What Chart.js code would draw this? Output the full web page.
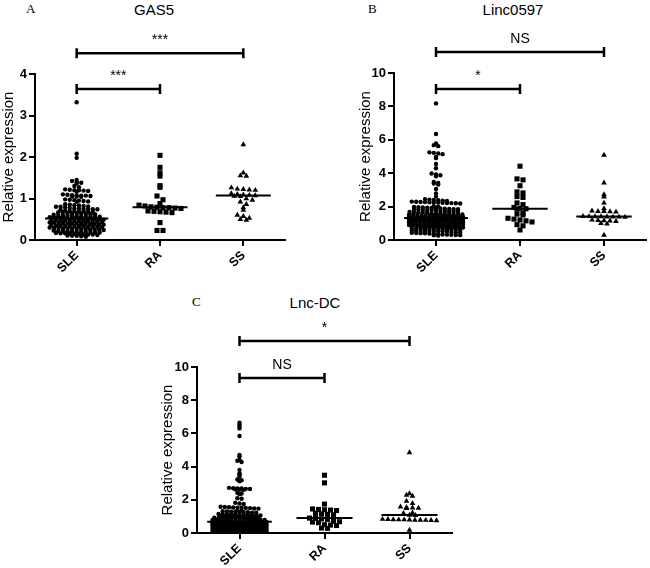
<!DOCTYPE html>
<html>
<head>
<title>GAS5 / Linc0597 / Lnc-DC</title>
<script src="https://cdn.jsdelivr.net/npm/chart.js"></script>
<style>
  body { margin: 0; background: #fff; width: 650px; height: 568px; position: relative; overflow: hidden;
         font-family: "Liberation Sans", Arial, sans-serif; }
  canvas { position: absolute; }
  .letter { position: absolute; font-family: "Liberation Serif", "Times New Roman", serif; font-size: 13px; color: #000; }
  .title { position: absolute; font-size: 15px; color: #000; transform: translateX(-50%); white-space: nowrap; }
</style>
</head>
<body>
<div class="letter" style="left:26px;top:1px">A</div>
<div class="title" style="left:154px;top:1px">GAS5</div>
<div class="letter" style="left:368px;top:1px">B</div>
<div class="title" style="left:513px;top:1px">Linc0597</div>
<div class="letter" style="left:192px;top:294px">C</div>
<div class="title" style="left:315px;top:294px">Lnc-DC</div>

<canvas id="chartA" width="325" height="290" style="left:0;top:0"></canvas>
<canvas id="chartB" width="325" height="290" style="left:325px;top:0"></canvas>
<canvas id="chartC" width="325" height="278" style="left:150px;top:290px"></canvas>

<script>
const categories = ["SLE", "RA", "SS"];

// GAS5
const gas5SLE = [
  3.32, 2.08, 1.98,
  1.45, 1.42, 1.40, 1.38, 1.36, 1.30, 1.27,
  1.22, 1.21, 1.20, 1.20, 1.19, 1.18, 1.17,
  1.10, 1.09, 1.08, 1.08, 1.07, 1.07, 1.06, 1.05, 1.05, 1.04,
  0.98, 0.97, 0.96, 0.95, 0.94, 0.93, 0.92,
  0.86, 0.85, 0.84, 0.83, 0.82, 0.81, 0.80, 0.80, 0.79,
  0.77, 0.76, 0.76, 0.75, 0.75, 0.74, 0.74, 0.73,
  0.71, 0.70, 0.70, 0.69, 0.69, 0.68, 0.68, 0.67, 0.67,
  0.65, 0.64, 0.64, 0.63, 0.63, 0.62, 0.62, 0.61, 0.61, 0.60,
  0.59, 0.58, 0.58, 0.57, 0.57, 0.57, 0.56, 0.56, 0.55, 0.55, 0.54,
  0.53, 0.53, 0.52, 0.52, 0.52, 0.52, 0.51, 0.51, 0.51, 0.50, 0.50, 0.50,
  0.49, 0.48, 0.48, 0.47, 0.47, 0.46, 0.46, 0.46, 0.45, 0.45, 0.44, 0.44, 0.43,
  0.42, 0.42, 0.41, 0.41, 0.40, 0.40, 0.40, 0.39, 0.39, 0.38, 0.38, 0.37, 0.37,
  0.36, 0.35, 0.35, 0.34, 0.34, 0.34, 0.33, 0.33, 0.32, 0.32, 0.31, 0.31, 0.30,
  0.29, 0.29, 0.28, 0.28, 0.27, 0.27, 0.26, 0.26, 0.25, 0.25, 0.24, 0.24,
  0.23, 0.22, 0.22, 0.21, 0.21, 0.20, 0.20, 0.19, 0.19, 0.18, 0.18,
  0.17, 0.16, 0.16, 0.15, 0.15, 0.14, 0.14, 0.13, 0.13,
  0.12, 0.11, 0.10, 0.10, 0.09, 0.08
];
const gas5RA = [2.04, 1.75, 1.62, 1.54, 1.31, 1.27, 1.06, 0.97, 0.88, 0.84, 0.82, 0.80, 0.79,
  0.78, 0.78, 0.77, 0.76, 0.70, 0.69, 0.68, 0.67, 0.66, 0.42, 0.23, 0.23];
const gas5SS = [2.30, 1.62, 1.55, 1.54, 1.26, 1.23, 1.22, 1.21, 1.20, 1.12, 1.10, 1.09, 1.08, 1.07,
  1.06, 1.05, 1.00, 0.96, 0.92, 0.86, 0.78, 0.72, 0.60, 0.57, 0.53, 0.50, 0.48];
const gas5Ticks = [0, 1, 2, 3, 4];

// Linc0597
const lincSLE = [
  8.18, 6.35, 5.78, 5.68, 5.62, 5.25, 5.22, 5.18, 5.14, 4.98, 4.90, 4.55, 4.30,
  3.98, 3.92, 3.88, 3.82, 3.48, 3.42, 3.38, 3.32, 3.05, 2.78, 2.60,
  2.45, 2.42, 2.40, 2.38, 2.36, 2.34,
  2.30, 2.29, 2.28, 2.27, 2.26, 2.25, 2.24, 2.23, 2.22, 2.21, 2.20, 2.19,
  2.02, 2.00, 1.98, 1.97, 1.95, 1.94, 1.92, 1.91, 1.89,
  1.87, 1.86, 1.85, 1.84, 1.83, 1.82, 1.81, 1.80, 1.79, 1.78,
  1.73, 1.72, 1.71, 1.70, 1.69, 1.68, 1.67, 1.66, 1.65, 1.64,
  1.60, 1.59, 1.58, 1.57, 1.56, 1.55, 1.54, 1.53, 1.52, 1.51, 1.50,
  1.47, 1.46, 1.45, 1.44, 1.43, 1.42, 1.42, 1.41, 1.40, 1.39, 1.38, 1.37,
  1.34, 1.33, 1.32, 1.32, 1.31, 1.30, 1.30, 1.29, 1.29, 1.28, 1.28, 1.27, 1.26, 1.25,
  1.22, 1.21, 1.20, 1.20, 1.19, 1.18, 1.18, 1.17, 1.16, 1.16, 1.15, 1.14, 1.13,
  1.10, 1.09, 1.08, 1.07, 1.06, 1.06, 1.05, 1.04, 1.04, 1.03, 1.02, 1.01, 1.00,
  0.97, 0.96, 0.95, 0.94, 0.93, 0.92, 0.92, 0.91, 0.90, 0.89, 0.88, 0.87,
  0.85, 0.84, 0.83, 0.82, 0.81, 0.80, 0.80, 0.79, 0.78, 0.77, 0.76, 0.75,
  0.72, 0.71, 0.70, 0.69, 0.68, 0.68, 0.67, 0.66, 0.65, 0.64, 0.63,
  0.60, 0.58, 0.57, 0.56, 0.55, 0.55, 0.54, 0.53, 0.52, 0.51,
  0.48, 0.46, 0.45, 0.43, 0.42, 0.41, 0.40, 0.39, 0.37,
  0.35, 0.33, 0.32, 0.31, 0.30, 0.29, 0.28, 0.26
];
const lincRA = [4.42, 3.66, 3.60, 3.25, 2.88, 2.82, 2.60, 2.55, 2.22, 2.12, 1.95, 1.90, 1.87,
  1.84, 1.62, 1.55, 1.50, 1.30, 1.25, 1.20, 1.15, 1.08, 0.92, 0.85, 0.60];
const lincSS = [5.08, 3.42, 2.72, 2.58, 2.22, 1.88, 1.75, 1.72, 1.72, 1.70, 1.68, 1.42, 1.41, 1.40,
  1.40, 1.39, 1.38, 1.38, 1.37, 1.20, 1.18, 1.16, 1.15, 1.12, 1.00, 0.96, 0.30];
const lincTicks = [0, 2, 4, 6, 8, 10];

// Lnc-DC
const lncdcSLE = [
  6.64, 6.52, 6.40, 6.30, 5.84, 4.70, 4.62, 4.40, 4.35, 4.28, 3.80, 3.58, 3.52, 3.40,
  3.22, 3.18, 3.12, 2.72, 2.70, 2.69, 2.68, 2.66, 2.65, 2.64, 2.62, 2.60,
  2.42, 2.38, 2.34, 2.10, 2.06, 1.82, 1.78, 1.75,
  1.58, 1.57, 1.55, 1.54, 1.53, 1.52, 1.51, 1.50, 1.48, 1.47,
  1.34, 1.33, 1.31, 1.30, 1.29, 1.28, 1.27, 1.26, 1.25, 1.23, 1.22,
  1.15, 1.14, 1.13, 1.12, 1.11, 1.10, 1.10, 1.09, 1.08, 1.07, 1.06, 1.05,
  1.00, 0.99, 0.98, 0.97, 0.96, 0.95, 0.95, 0.94, 0.93, 0.92, 0.91, 0.90,
  0.87, 0.86, 0.85, 0.84, 0.83, 0.82, 0.82, 0.81, 0.80, 0.79, 0.78, 0.77, 0.76,
  0.73, 0.72, 0.71, 0.71, 0.70, 0.69, 0.69, 0.68, 0.68, 0.67, 0.67, 0.66, 0.65, 0.65, 0.64, 0.63,
  0.60, 0.59, 0.58, 0.58, 0.57, 0.56, 0.56, 0.55, 0.55, 0.54, 0.54, 0.53, 0.52, 0.52, 0.51, 0.50,
  0.49, 0.48, 0.48, 0.47, 0.47, 0.46, 0.46, 0.45, 0.45, 0.44, 0.44, 0.43, 0.43, 0.42, 0.42, 0.41,
  0.39, 0.38, 0.38, 0.37, 0.37, 0.36, 0.36, 0.35, 0.35, 0.34, 0.34, 0.33, 0.33, 0.32, 0.32, 0.31,
  0.29, 0.28, 0.28, 0.27, 0.27, 0.26, 0.26, 0.25, 0.25, 0.24, 0.24, 0.23, 0.23, 0.22, 0.22, 0.21,
  0.19, 0.18, 0.18, 0.17, 0.17, 0.16, 0.16, 0.15, 0.15, 0.14, 0.14, 0.13, 0.13, 0.12, 0.11,
  0.10, 0.09, 0.09, 0.08, 0.08, 0.07, 0.07, 0.06, 0.05, 0.05, 0.04, 0.03
];
const lncdcRA = [3.48, 3.02, 1.74, 1.45, 1.42, 1.40, 1.38, 1.35, 1.18, 1.15, 1.12, 1.10, 0.90,
  0.88, 0.85, 0.82, 0.70, 0.68, 0.66, 0.62, 0.50, 0.48, 0.45, 0.30, 0.28];
const lncdcSS = [4.84, 2.38, 2.28, 2.22, 1.92, 1.78, 1.58, 1.55, 1.52, 1.50, 1.48, 1.22, 1.18, 1.08,
  1.06, 0.83, 0.82, 0.81, 0.80, 0.80, 0.79, 0.78, 0.78, 0.77, 0.76, 0.75, 0.18];
const lncdcTicks = [0, 2, 4, 6, 8, 10];

const FONT = "'Liberation Sans', Arial, sans-serif";
const markers = ["circle", "rect", "triangle"];
const markerSize = [2.2, 3.6, 3.3];
const halfWidth = [0.38, 0.33, 0.33];

function median(arr) {
  const s = arr.slice().sort((a, b) => a - b);
  const m = Math.floor(s.length / 2);
  return s.length % 2 ? s[m] : (s[m - 1] + s[m]) / 2;
}

const bracketPlugin = {
  id: "brackets",
  afterDraw(chart, args, opts) {
    const { ctx } = chart;
    const x = chart.scales.x, y = chart.scales.y;
    ctx.save();
    ctx.strokeStyle = "#000";
    ctx.fillStyle = "#000";
    ctx.lineWidth = 2.5;
    ctx.font = "14px " + FONT;
    ctx.textAlign = "center";
    ctx.textBaseline = "alphabetic";
    opts.items.forEach(b => {
      const x1 = x.getPixelForValue(b.from), x2 = x.getPixelForValue(b.to);
      const py = y.getPixelForValue(b.y);
      ctx.beginPath();
      ctx.moveTo(x1, py); ctx.lineTo(x2, py);
      ctx.moveTo(x1, py - 5); ctx.lineTo(x1, py + 5);
      ctx.moveTo(x2, py - 5); ctx.lineTo(x2, py + 5);
      ctx.stroke();
      ctx.fillText(b.text, (x1 + x2) / 2, py - 9);
    });
    ctx.restore();
  }
};

// dot-plot layout: group points into pixel rows, centre each row on the category
function spreadRows(chart) {
  const xs = chart.scales.x, ys = chart.scales.y;
  const unit = xs.getPixelForValue(1) - xs.getPixelForValue(0);
  chart.data.datasets.forEach(ds => {
    if (ds.row === undefined) return;
    const rows = {};
    ds.data.forEach(p => {
      const key = Math.round(ys.getPixelForValue(p.y) / ds.row);
      (rows[key] = rows[key] || []).push(p);
    });
    Object.values(rows).forEach(pts => {
      const n = pts.length;
      const sp = n > 1 ? Math.min(ds.gap, ds.maxW / (n - 1)) : 0;
      pts.forEach((p, j) => {
        p.x = ds.groupIndex + (j - (n - 1) / 2) * sp / unit;
      });
    });
  });
  chart.update("none");
}

function makePanel(id, groups, ticks, yMax, sleRow, sleGap, brackets, pad, yWidth, xHeight) {
  const datasets = [];
  groups.forEach((vals, i) => {
    datasets.push({
      data: vals.map(v => ({ x: i, y: v })),
      groupIndex: i,
      row: i === 0 ? sleRow : 4.5,
      gap: i === 0 ? sleGap : 6,
      maxW: 54,
      pointStyle: markers[i],
      pointRadius: markerSize[i],
      pointBackgroundColor: "#000",
      pointBorderWidth: 0,
      order: 2
    });
    const m = median(vals);
    datasets.push({
      data: [{ x: i - halfWidth[i], y: m }, { x: i + halfWidth[i], y: m }],
      showLine: true,
      borderColor: "#000",
      borderWidth: 2,
      pointRadius: 0,
      order: 1
    });
  });
  const chart = new Chart(document.getElementById(id), {
    type: "scatter",
    data: { datasets },
    options: {
      responsive: false,
      animation: false,
      layout: { padding: pad },
      plugins: { legend: { display: false }, tooltip: { enabled: false }, brackets: { items: brackets } },
      scales: {
        x: {
          type: "linear", min: -0.5, max: 2.5,
          afterBuildTicks: s => { s.ticks = categories.map((c, i) => ({ value: i })); },
          afterFit: s => { s.height = xHeight; },
          ticks: {
            callback: v => categories[v],
            minRotation: 45, maxRotation: 45, padding: 2, color: "#000",
            font: { family: FONT, size: 12.5, weight: "bold" }
          },
          grid: { display: true, drawOnChartArea: false, drawTicks: true, tickLength: 6, color: "#000", lineWidth: 2 },
          border: { display: true, color: "#000", width: 2 }
        },
        y: {
          min: 0, max: yMax,
          afterBuildTicks: s => { s.ticks = ticks.map(v => ({ value: v })); },
          afterFit: s => { s.width = yWidth; },
          ticks: { padding: 2, color: "#000", font: { family: FONT, size: 13, weight: "bold" } },
          grid: { display: true, drawOnChartArea: false, drawTicks: true, tickLength: 6, color: "#000", lineWidth: 2 },
          border: { display: true, color: "#000", width: 2 },
          title: { display: true, text: "Relative expression", color: "#000", padding: 0, font: { family: FONT, size: 15 } }
        }
      }
    },
    plugins: [bracketPlugin]
  });
  spreadRows(chart);
  return chart;
}

makePanel("chartA", [gas5SLE, gas5RA, gas5SS], gas5Ticks, 4, 2.6, 4.6,
  [{ from: 0, to: 2, y: 4.5, text: "***" }, { from: 0, to: 1, y: 3.64, text: "***" }],
  { left: 0, top: 74, right: 40, bottom: 0 }, 35, 50);

makePanel("chartB", [lincSLE, lincRA, lincSS], lincTicks, 10, 2.6, 4.4,
  [{ from: 0, to: 2, y: 11.26, text: "NS" }, { from: 0, to: 1, y: 9.04, text: "*" }],
  { left: 32, top: 73, right: 2, bottom: 0 }, 37, 50);

makePanel("chartC", [lncdcSLE, lncdcRA, lncdcSS], lncdcTicks, 10, 2.2, 4.2,
  [{ from: 0, to: 2, y: 11.57, text: "*" }, { from: 0, to: 1, y: 9.34, text: "NS" }],
  { left: 9, top: 77, right: 23, bottom: 0 }, 38, 35);
</script>
</body>
</html>
